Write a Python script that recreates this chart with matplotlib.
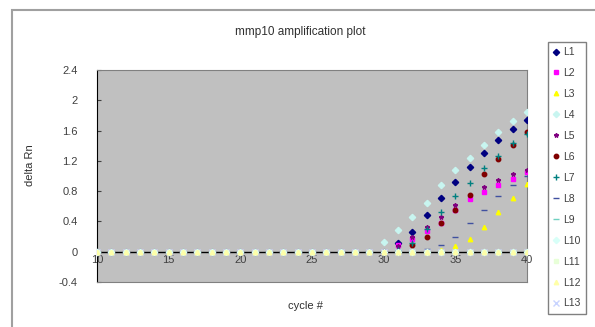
import matplotlib
matplotlib.use("Agg")
import matplotlib.pyplot as plt
from matplotlib.patches import Rectangle

# DATA
cycles = list(range(10, 41))
labels = ["L1", "L2", "L3", "L4", "L5", "L6", "L7", "L8", "L9",
          "L10", "L11", "L12", "L13"]

pre = [0.0] * 20  # cycles 10-29
L1 = pre + [0.00, 0.12, 0.26, 0.49, 0.71, 0.92, 1.12, 1.31, 1.47, 1.62, 1.74]
L2 = pre + [0.00, 0.09, 0.17, 0.27, 0.38, 0.55, 0.70, 0.79, 0.88, 0.96, 1.05]
L3 = pre + [0.00, 0.00, 0.00, 0.00, 0.02, 0.07, 0.17, 0.33, 0.53, 0.71, 0.90]
L4 = pre + [0.13, 0.29, 0.46, 0.65, 0.88, 1.08, 1.24, 1.41, 1.58, 1.72, 1.84]
L5 = pre + [0.00, 0.08, 0.20, 0.33, 0.46, 0.62, 0.75, 0.86, 0.95, 1.02, 1.08]
L6 = pre + [0.00, 0.00, 0.09, 0.20, 0.38, 0.55, 0.75, 1.02, 1.23, 1.41, 1.58]
L7 = pre + [0.00, 0.02, 0.12, 0.30, 0.52, 0.73, 0.91, 1.10, 1.27, 1.43, 1.56]
L8 = pre + [0.00, 0.00, 0.00, 0.03, 0.09, 0.20, 0.38, 0.55, 0.74, 0.88, 1.00]
L9 = [0.0] * 31
L10 = [0.0] * 31
L11 = [0.0] * 31
L12 = [0.0] * 31
L13 = [0.0] * 31
series = [L1, L2, L3, L4, L5, L6, L7, L8, L9, L10, L11, L12, L13]

colors = ["#000080", "#ff00ff", "#ffff00", "#c8f5f0", "#800080", "#800000",
          "#008080", "#4050a0", "#6fd0c0", "#d8fff8", "#e8ffd8", "#ffffa8",
          "#c8d4ff"]
markers = ["D", "s", "^", "D", "*", "o", "+", "_", "_", "D", "s", "^", "x"]

W, H = 595, 327
fig = plt.figure(figsize=(W / 100, H / 100), dpi=100)
plt.rcParams['font.family'] = ['Liberation Sans', 'DejaVu Sans']

# outer chart border
fig.patches.append(Rectangle((12 / W, -0.1), 1.2, 1 - 10 / H + 0.1,
                             transform=fig.transFigure, fill=False,
                             edgecolor="#a0a0a0", lw=1.5))

ax = fig.add_axes([97 / W, 1 - 282 / H, 430 / W, 212 / H])
ax.set_facecolor("#c0c0c0")

ax.axhline(0, color="black", lw=1, zorder=1)
# pale series drawn last so the zero baseline looks like light dashes
order = [0, 1, 2, 4, 5, 6, 7, 3, 8, 12, 9, 10, 11]
handles = {}
for i in order:
    m = markers[i]
    ms = 3.2 if m not in ("+", "_", "x") else 3.8
    h, = ax.plot(cycles, series[i], linestyle="none", marker=m,
                 color=colors[i], ms=ms, mew=1, label=labels[i], zorder=3)
    handles[i] = h

ax.set_xlim(10, 40)
ax.set_ylim(-0.4, 2.4)
ax.set_yticks([-0.4, 0, 0.4, 0.8, 1.2, 1.6, 2, 2.4])
ax.set_yticklabels(["-0.4", "0", "0.4", "0.8", "1.2", "1.6", "2", "2.4"])
ax.set_xticks([10, 15, 20, 25, 30, 35, 40])
ax.tick_params(axis="y", direction="in", length=3, labelsize=8, pad=14,
               colors="#404040")
ax.tick_params(axis="x", length=0, labelsize=8, pad=-12, colors="#404040")
for t in ax.get_xticklabels():
    t.set_va("bottom")

for sp in ["top", "right", "bottom"]:
    ax.spines[sp].set_color("#808080")
ax.spines["left"].set_color("black")

fig.text(300 / W, 1 - 32 / H, "mmp10 amplification plot", ha="center",
         va="center", fontsize=8.5, color="#303030")
fig.text(30 / W, 1 - 165 / H, "delta Rn", ha="center", va="center",
         rotation=90, fontsize=8, color="#303030")
fig.text(305 / W, 1 - 306 / H, "cycle #", ha="center", va="center",
         fontsize=8, color="#303030")

leg = fig.legend([handles[i] for i in range(len(labels))], labels,
                 loc="upper left", bbox_to_anchor=(548 / W, 1 - 42 / H),
                 fontsize=7.5, frameon=True, fancybox=False,
                 edgecolor="#606060", labelspacing=1.05, handlelength=0.6,
                 handletextpad=0.4, borderpad=0.5, borderaxespad=0)
leg.get_frame().set_linewidth(1)
for t in leg.get_texts():
    t.set_color("#404040")

fig.savefig("out.png", dpi=100)
